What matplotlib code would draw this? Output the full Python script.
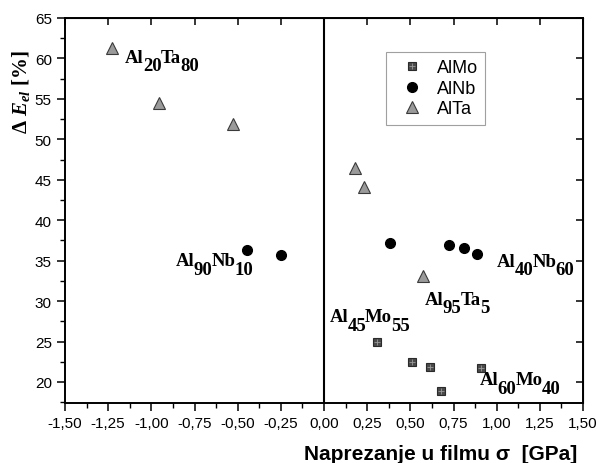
import numpy as np
import matplotlib
matplotlib.use("Agg")
import matplotlib.pyplot as plt
from matplotlib.lines import Line2D
from matplotlib.ticker import MultipleLocator, FuncFormatter

plt.rcParams['font.family'] = ['Liberation Sans', 'DejaVu Sans']
plt.rcParams['mathtext.fontset'] = 'custom'
plt.rcParams['mathtext.rm'] = 'Liberation Serif:bold'
plt.rcParams['mathtext.bf'] = 'Liberation Serif:bold'
plt.rcParams['mathtext.it'] = 'Liberation Serif:bold:italic'

# stress sigma [GPa] vs elastic recovery dE_el [%]
almo_x = [0.307, 0.509, 0.615, 0.679, 0.909]
almo_y = [25.0, 22.5, 21.9, 18.9, 21.7]

alnb_x = [-0.444, -0.249, 0.382, 0.724, 0.812, 0.884]
alnb_y = [36.3, 35.75, 37.2, 36.9, 36.6, 35.8]

alta_x = [-1.23, -0.954, -0.527, 0.179, 0.233, 0.575]
alta_y = [61.25, 54.55, 51.95, 46.4, 44.1, 33.1]

# composition labels: (element, index) pairs
labels = [[('Al', '20'), ('Ta', '80')],
          [('Al', '90'), ('Nb', '10')],
          [('Al', '40'), ('Nb', '60')],
          [('Al', '95'), ('Ta', '5')],
          [('Al', '45'), ('Mo', '55')],
          [('Al', '60'), ('Mo', '40')]]
label_pos = [(-1.153, 59.6), (-0.859, 34.4), (1.0, 34.35),
             (0.585, 29.7), (0.031, 27.5), (0.903, 19.7)]


def chem_label(ax, x, y, parts, size=13.5, drop=6, kern=-0.6):
    kw = dict(fontsize=size, family='Liberation Serif', fontweight='bold', ha='left')
    prev = None
    for el, idx in parts:
        if prev is None:
            prev = ax.text(x, y, el, va='baseline', **kw)
        else:
            prev = ax.annotate(el, xy=(1, 0), xycoords=prev, xytext=(kern, drop),
                               textcoords='offset points', va='bottom', **kw)
        prev = ax.annotate(idx, xy=(1, 0), xycoords=prev, xytext=(kern, -drop),
                           textcoords='offset points', va='bottom', **kw)


fig = plt.figure(figsize=(5.98, 4.64), dpi=100)
ax = fig.add_axes([65/598, 1-404/464, 518/598, 385/464])

ax.axvline(0, color='black', lw=1.5, zorder=1)

ax.plot(almo_x, almo_y, 's', ms=6, mfc='#4a4a4a', mec='#2a2a2a', mew=0.8, zorder=3)
ax.plot(almo_x, almo_y, '+', ms=5, mec='#9a9a9a', mew=0.6, zorder=4)
ax.plot(alnb_x, alnb_y, 'o', ms=7, mfc='black', mec='black', zorder=3)
ax.plot(alta_x, alta_y, '^', ms=8, mfc='#9a9a9a', mec='#3a3a3a', mew=0.8, zorder=3)

for parts, (x, y) in zip(labels, label_pos):
    chem_label(ax, x, y, parts)

ax.set_xlim(-1.5, 1.5)
ax.set_ylim(17.4, 65)
ax.xaxis.set_major_locator(MultipleLocator(0.25))
ax.xaxis.set_minor_locator(MultipleLocator(0.125))
ax.yaxis.set_major_locator(MultipleLocator(5))
ax.yaxis.set_minor_locator(MultipleLocator(2.5))
ax.xaxis.set_major_formatter(FuncFormatter(lambda v, p: f'{v:.2f}'.replace('.', ',').replace('-0,00', '0,00')))
ax.tick_params(which='major', direction='out', length=6, width=1.1, labelsize=11)
ax.tick_params(which='minor', direction='out', length=3.5, width=1.0)
for s in ax.spines.values():
    s.set_linewidth(1.4)

top = ax.secondary_xaxis('top')
top.xaxis.set_major_locator(MultipleLocator(0.25))
top.tick_params(direction='in', length=5, width=1.1, labeltop=False)
right = ax.secondary_yaxis('right')
right.yaxis.set_major_locator(MultipleLocator(5))
right.tick_params(direction='in', length=5, width=1.1, labelright=False)

ax.set_xlabel('Naprezanje u filmu σ  [GPa]', fontsize=15, fontweight='bold')
ax.xaxis.set_label_coords(0.726, -0.106)
ax.set_ylabel(r'$\Delta\ E_{el}$ [%]', fontsize=15, fontweight='bold',
              family='Liberation Serif', va='center', ha='center')
ax.yaxis.set_label_coords(-0.085, 0.81)

h_mo = (Line2D([], [], ls='', marker='s', ms=6, mfc='#4a4a4a', mec='#2a2a2a', mew=0.8),
        Line2D([], [], ls='', marker='+', ms=5, mec='#9a9a9a', mew=0.6))
h_nb = Line2D([], [], ls='', marker='o', ms=7, mfc='black', mec='black')
h_ta = Line2D([], [], ls='', marker='^', ms=8, mfc='#9a9a9a', mec='#3a3a3a', mew=0.8)
leg = ax.legend([h_mo, h_nb, h_ta], ['AlMo', 'AlNb', 'AlTa'],
                loc='upper left', bbox_to_anchor=((386-65)/518, (404-53)/385),
                fontsize=13, frameon=True, fancybox=False, handlelength=2.1,
                handletextpad=0.3, borderpad=0.4, labelspacing=0.2, borderaxespad=0)
leg.get_frame().set_edgecolor('#888888')
leg.get_frame().set_linewidth(0.8)

fig.savefig('out.png', dpi=100)
